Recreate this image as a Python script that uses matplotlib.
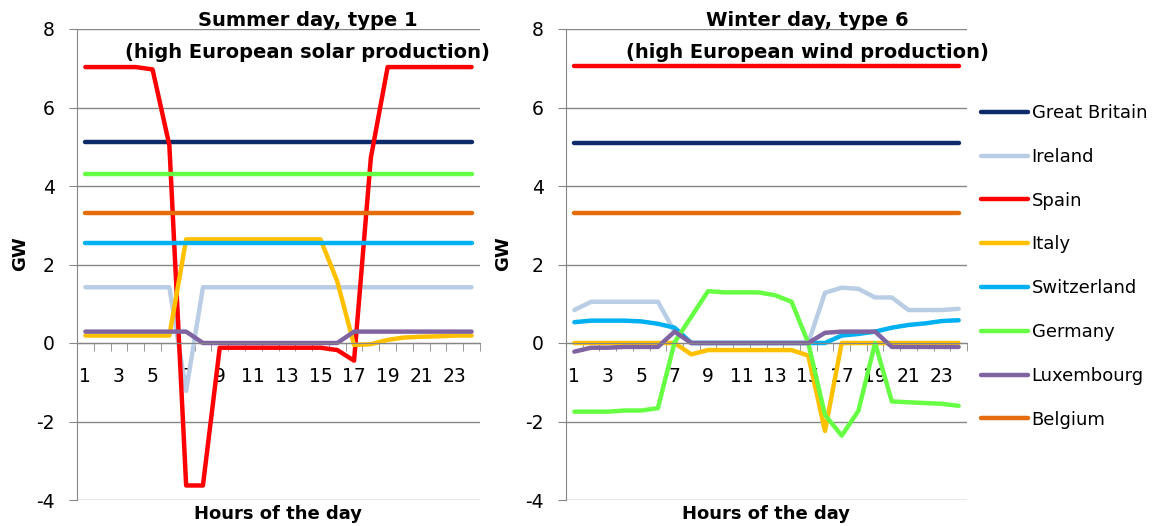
"""Cross-border flows, summer vs winter typical days."""

import numpy as np
import matplotlib
matplotlib.use("Agg")
import matplotlib.pyplot as plt
from matplotlib.lines import Line2D

plt.rcParams['font.family'] = ['DejaVu Sans']
plt.rcParams['font.size'] = 13.5
plt.rcParams['axes.unicode_minus'] = False

hours = list(range(1, 25))
countries = ["Great Britain", "Ireland", "Spain", "Italy",
             "Switzerland", "Germany", "Luxembourg", "Belgium"]
colors = ["#0e2a68", "#b9cde5", "#ff0000", "#ffc000",
          "#00b0f0", "#66ff44", "#8064a2", "#e46c0a"]

# summer day, type 1
gb_s = [5.12] * 24
ireland_s = [1.42, 1.42, 1.42, 1.42, 1.42, 1.42, -1.22, 1.42, 1.42, 1.42, 1.42, 1.42,
             1.42, 1.42, 1.42, 1.42, 1.42, 1.42, 1.42, 1.42, 1.42, 1.42, 1.42, 1.42]
spain_s = [7.03, 7.03, 7.03, 7.03, 6.97, 5.04, -3.63, -3.63, -0.12, -0.12, -0.12, -0.12,
           -0.12, -0.12, -0.12, -0.18, -0.45, 4.72, 7.03, 7.03, 7.03, 7.03, 7.03, 7.03]
italy_s = [0.19, 0.19, 0.19, 0.19, 0.19, 0.19, 2.64, 2.64, 2.64, 2.64, 2.64, 2.64,
           2.64, 2.64, 2.64, 1.57, -0.05, -0.03, 0.08, 0.14, 0.16, 0.17, 0.19, 0.19]
swiss_s = [2.54] * 24
germany_s = [4.31] * 24
lux_s = [0.29, 0.29, 0.29, 0.29, 0.29, 0.29, 0.29, 0.0, 0.0, 0.0, 0.0, 0.0,
         0.0, 0.0, 0.0, 0.0, 0.29, 0.29, 0.29, 0.29, 0.29, 0.29, 0.29, 0.29]
belgium_s = [3.3] * 24

# winter day, type 6
gb_w = [5.1] * 24
ireland_w = [0.84, 1.05, 1.05, 1.05, 1.05, 1.05, 0.29, 0.0, 0.0, 0.0, 0.0, 0.0,
             0.0, 0.0, 0.0, 1.28, 1.41, 1.38, 1.16, 1.16, 0.84, 0.84, 0.84, 0.87]
spain_w = [7.07] * 24
italy_w = [0.0, 0.0, 0.0, 0.0, 0.0, 0.0, 0.0, -0.29, -0.18, -0.18, -0.18, -0.18,
           -0.18, -0.18, -0.32, -2.24, 0.0, 0.0, 0.0, 0.0, 0.0, 0.0, 0.0, 0.0]
swiss_w = [0.53, 0.57, 0.57, 0.57, 0.55, 0.49, 0.39, 0.0, 0.0, 0.0, 0.0, 0.0,
           0.0, 0.0, 0.0, 0.0, 0.19, 0.23, 0.29, 0.39, 0.46, 0.5, 0.56, 0.58]
germany_w = [-1.75, -1.75, -1.75, -1.72, -1.72, -1.66, 0.02, 0.67, 1.32, 1.29, 1.29, 1.29,
             1.22, 1.05, 0.0, -1.83, -2.36, -1.73, 0.0, -1.49, -1.51, -1.53, -1.55, -1.6]
lux_w = [-0.22, -0.12, -0.12, -0.1, -0.1, -0.1, 0.29, 0.0, 0.0, 0.0, 0.0, 0.0,
         0.0, 0.0, 0.0, 0.26, 0.29, 0.29, 0.29, -0.1, -0.1, -0.1, -0.1, -0.1]
belgium_w = [3.3] * 24

summer = [gb_s, ireland_s, spain_s, italy_s, swiss_s, germany_s, lux_s, belgium_s]
winter = [gb_w, ireland_w, spain_w, italy_w, swiss_w, germany_w, lux_w, belgium_w]

grey = "#868686"
fig = plt.figure(figsize=(11.67, 5.26), dpi=100)
ax1 = fig.add_axes([77 / 1167, 1 - 500 / 526, 403 / 1167, 471 / 526])
ax2 = fig.add_axes([566 / 1167, 1 - 500 / 526, 401 / 1167, 471 / 526])


def style(ax, title1, title2, tx, gwx):
    ax.set_xlim(0.5, 24.5)
    ax.set_ylim(-4, 8)
    ax.set_yticks(np.arange(-4, 9, 2))
    ax.yaxis.grid(True, color=grey, lw=1)
    ax.set_axisbelow(True)
    for s in ["top", "right"]:
        ax.spines[s].set_visible(False)
    ax.spines["left"].set_color(grey)
    ax.spines["bottom"].set_color(grey)
    ax.spines["bottom"].set_position(("data", 0))
    ax.tick_params(axis="y", length=6, color=grey, pad=10)
    ax.set_xticks(range(1, 25, 2))
    ax.set_xticks(np.arange(0.5, 25, 1), minor=True)
    ax.tick_params(axis="x", which="major", length=0, pad=17)
    ax.tick_params(axis="x", which="minor", length=6, color=grey)
    ax.set_ylabel("GW", fontweight="bold", fontsize=13)
    ax.yaxis.set_label_coords(gwx, 0.524)
    ax.text(0.5, -4.12, "Hours of the day", transform=ax.get_yaxis_transform(),
            ha="center", va="top", fontweight="bold", fontsize=13)
    ax.text(tx, 8.22, title1, ha="center", va="center", fontweight="bold",
            fontsize=14, transform=ax.get_yaxis_transform())
    ax.text(tx, 7.4, title2, ha="center", va="center", fontweight="bold",
            fontsize=14, transform=ax.get_yaxis_transform())


for ax, series in [(ax1, summer), (ax2, winter)]:
    for vals, c, name in zip(series, colors, countries):
        ax.plot(hours, vals, color=c, lw=3.2, solid_capstyle="round",
                solid_joinstyle="round", label=name)

style(ax1, "Summer day, type 1", "(high European solar production)", 0.573, -0.119)
style(ax2, "Winter day, type 6", "(high European wind production)", 0.603, -0.135)

handles = [Line2D([], [], color=c, lw=3.2, solid_capstyle="round") for c in colors]
fig.legend(handles, countries, loc="upper left", bbox_to_anchor=(981 / 1167, 1 - 104 / 526),
           frameon=False, handlelength=2.6, handletextpad=0.2, labelspacing=1.43,
           borderpad=0, borderaxespad=0, fontsize=13)

fig.savefig("out.png", dpi=100)
